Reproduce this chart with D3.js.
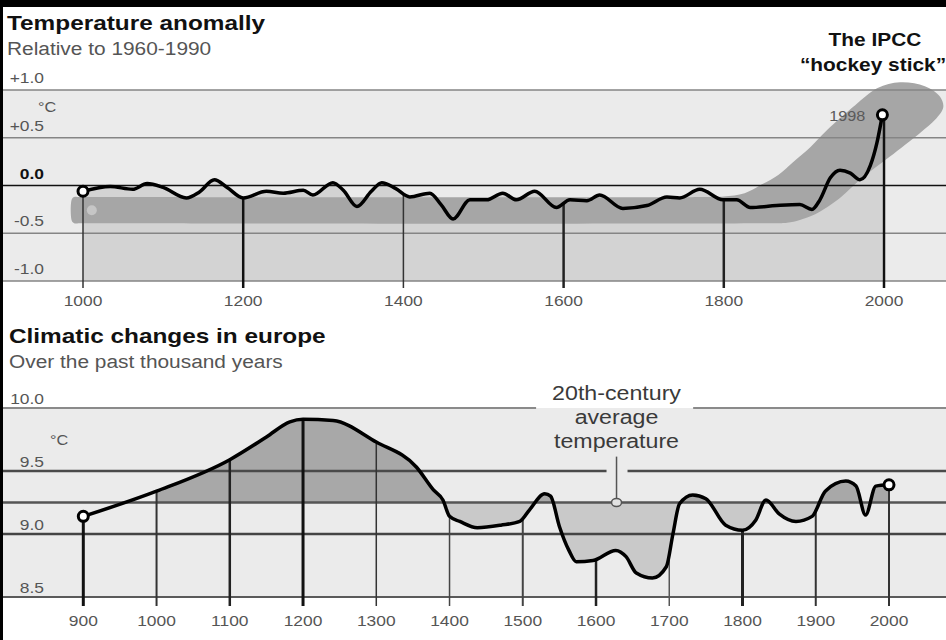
<!DOCTYPE html>
<html lang="en">
<head>
<meta charset="UTF-8">
<title>Temperature anomally</title>
<style>
  body { margin: 0; background: #fff; }
  svg { display: block; font-family: "Liberation Sans", Arial, sans-serif; }
</style>
</head>
<body>
<svg width="946" height="640"></svg>
<script src="https://d3js.org/d3.v7.min.js"></script>
<script>
// --- top panel: anomaly relative to 1960-1990 (°C) ---
const anomalyYears = [1000, 1034, 1062, 1080, 1100, 1129, 1145, 1164, 1180, 1200, 1229, 1250, 1275, 1287,
  1312, 1325, 1342, 1360, 1373, 1390, 1408, 1433, 1447, 1462, 1483, 1504, 1524, 1541, 1564, 1591, 1608,
  1629, 1645, 1674, 1704, 1729, 1745, 1770, 1799, 1816, 1833, 1866, 1895, 1910, 1920, 1933, 1945, 1958,
  1970, 1983, 1991, 1998];
const anomalyValues = [-0.06, -0.01, -0.04, 0.02, -0.02, -0.13, -0.07, 0.06, -0.02, -0.13, -0.06, -0.08, -0.05, -0.10,
  0.03, -0.05, -0.22, -0.06, 0.03, -0.03, -0.12, -0.08, -0.20, -0.35, -0.15, -0.15, -0.08, -0.15, -0.06, -0.23, -0.15,
  -0.16, -0.10, -0.24, -0.21, -0.12, -0.13, -0.04, -0.15, -0.15, -0.23, -0.21, -0.20, -0.25, -0.15, 0.08, 0.16, 0.13,
  0.06, 0.21, 0.44, 0.74];
const anomalyTicks = [1000, 1200, 1400, 1600, 1800, 2000];
const anomalyGrid = [1.0, 0.5, 0.0, -0.5, -1.0];
const anomalyGridLabels = ["+1.0", "+0.5", "0.0", "-0.5", "-1.0"];

// uncertainty band ("hockey stick"), outline going round clockwise
const bandYears = [986, 989, 996, 1780, 1800, 1826, 1845, 1868, 1886, 1908, 1929, 1964, 1992, 2020, 2051, 2070, 2074,
  2064, 2045, 2007, 1970, 1945, 1914, 1895, 1879, 1862, 996, 989, 986];
const bandValues = [-0.145, -0.12, -0.12, -0.12, -0.115, -0.08, 0.0, 0.11, 0.24, 0.40, 0.58, 0.84, 1.02, 1.08, 1.04, 0.93, 0.82,
  0.69, 0.55, 0.30, 0.06, -0.13, -0.30, -0.36, -0.39, -0.395, -0.395, -0.395, -0.37];
const bandDot = [1011, -0.26];
const labelYear = 1998;

// --- bottom panel: Europe temperature (°C) ---
const europeYears = [900, 1000, 1100, 1150, 1182, 1200, 1241, 1300, 1355, 1378, 1391, 1400, 1414, 1438, 1470,
  1496, 1509, 1530, 1538, 1550, 1563, 1573, 1596, 1627, 1641, 1655, 1677, 1696, 1705, 1714, 1732, 1750, 1777,
  1800, 1818, 1832, 1850, 1873, 1895, 1913, 1941, 1955, 1968, 1982, 2000];
const europeValues = [9.14, 9.34, 9.59, 9.77, 9.89, 9.91, 9.90, 9.73, 9.53, 9.35, 9.27, 9.14, 9.10, 9.05, 9.07,
  9.10, 9.19, 9.32, 9.30, 9.06, 8.87, 8.78, 8.79, 8.87, 8.82, 8.69, 8.65, 8.74, 9.00, 9.24, 9.31, 9.28, 9.07,
  9.03, 9.11, 9.27, 9.16, 9.10, 9.14, 9.34, 9.42, 9.38, 9.15, 9.38, 9.39];
const europeTicks = [900, 1000, 1100, 1200, 1300, 1400, 1500, 1600, 1700, 1800, 1900, 2000];
const europeGrid = [10.0, 9.5, 9.0, 8.5];
const europeGridLabels = ["10.0", "9.5", "9.0", "8.5"];
const europeAverage = 9.25;
const averageYear = 1628;
const averageLabel = ["20th-century", "average", "temperature"];

// ---------------------------------------------------------------
const W = 946, H = 640;
const SX = 1.16; // the lettering in the original is set wide
const svg = d3.select("svg");

const xTop = d3.scaleLinear().domain([1000, 2000]).range([83, 884]);
const yTop = d3.scaleLinear().domain([-1, 1]).range([281, 90]);
const xBot = d3.scaleLinear().domain([900, 2000]).range([83.3, 889]);
const yBot = d3.scaleLinear().domain([8.5, 10]).range([597, 408]);

function valueAt(years, values, t) {
  const i = d3.bisectLeft(years, t);
  if (i <= 0) return values[0];
  if (i >= years.length) return values[values.length - 1];
  const k = (t - years[i - 1]) / (years[i] - years[i - 1]);
  return values[i - 1] + (values[i] - values[i - 1]) * k;
}

function txt(sel, x, y, s, o = {}) {
  return sel.append("text")
    .attr("transform", `translate(${x},${y}) scale(${SX},1)`)
    .attr("text-anchor", o.anchor || "start")
    .attr("font-size", o.size || 15)
    .attr("font-weight", o.weight || "normal")
    .attr("fill", o.fill || "#555")
    .text(s);
}

// ===== top panel =====
const topG = svg.append("g");
const anomaly = anomalyYears.map((d, i) => [d, anomalyValues[i]]);

topG.append("rect")
  .attr("x", 0).attr("y", yTop(1)).attr("width", W).attr("height", yTop(-1) - yTop(1))
  .attr("fill", "#ebebeb");

topG.append("path")
  .datum(anomaly)
  .attr("fill", "#d3d3d3")
  .attr("d", d3.area().curve(d3.curveMonotoneX)
    .x(d => xTop(d[0])).y0(yTop(-1)).y1(d => yTop(d[1])));

topG.append("path")
  .datum(bandYears.map((d, i) => [d, bandValues[i]]))
  .attr("fill", "#a6a6a6")
  .attr("d", d3.line().curve(d3.curveCatmullRomClosed.alpha(0.5))
    .x(d => xTop(d[0])).y(d => yTop(d[1])));

topG.append("circle")
  .attr("cx", xTop(bandDot[0])).attr("cy", yTop(bandDot[1])).attr("r", 5)
  .attr("fill", "#c6c6c6");

topG.selectAll(".grid")
  .data(anomalyGrid)
  .join("line")
  .attr("x1", 3).attr("x2", W)
  .attr("y1", d => yTop(d)).attr("y2", d => yTop(d))
  .attr("stroke", d => d === 0 ? "#111" : "#858585")
  .attr("stroke-width", 1.6);

const topDrop = {1000: [1.5, "#333"], 1200: [2.5, "#111"], 1400: [1.5, "#333"],
  1600: [2.5, "#222"], 1800: [2.5, "#222"], 2000: [2.5, "#111"]};
topG.selectAll(".drop")
  .data(anomalyTicks)
  .join("line")
  .attr("x1", d => xTop(d)).attr("x2", d => xTop(d))
  .attr("y1", d => yTop(valueAt(anomalyYears, anomalyValues, d)))
  .attr("y2", yTop(-1) + 7)
  .attr("stroke", d => topDrop[d][1])
  .attr("stroke-width", d => topDrop[d][0]);

topG.append("path")
  .datum(anomaly)
  .attr("fill", "none")
  .attr("stroke", "#000")
  .attr("stroke-width", 3.5)
  .attr("stroke-linejoin", "round")
  .attr("d", d3.line().curve(d3.curveMonotoneX).x(d => xTop(d[0])).y(d => yTop(d[1])));

topG.selectAll(".dot")
  .data([anomaly[0], anomaly[anomaly.length - 1]])
  .join("circle")
  .attr("cx", d => xTop(d[0])).attr("cy", d => yTop(d[1])).attr("r", 5)
  .attr("fill", "#fff").attr("stroke", "#000").attr("stroke-width", 3);

txt(topG, 7, 30, "Temperature anomally", {size: 21, weight: "bold", fill: "#111"});
txt(topG, 7, 55, "Relative to 1960-1990", {size: 18, fill: "#555"});
anomalyGrid.forEach((v, i) => {
  txt(topG, 44, yTop(v) - 7, anomalyGridLabels[i],
    {anchor: "end", size: 15, weight: v === 0 ? "bold" : "normal", fill: v === 0 ? "#111" : "#555"});
});
txt(topG, 38, 112, "°C", {size: 14});
txt(topG, 875, 46, "The IPCC", {anchor: "middle", size: 18, weight: "bold", fill: "#111"});
txt(topG, 873, 71, "\u201chockey stick\u201d", {anchor: "middle", size: 18, weight: "bold", fill: "#111"});
txt(topG, xTop(labelYear) - 17, yTop(anomalyValues[anomalyValues.length - 1]) + 6, String(labelYear),
  {anchor: "end", size: 14, fill: "#5a5a5a"});
anomalyTicks.forEach(t => txt(topG, xTop(t), 306, String(t), {anchor: "middle", size: 15, fill: "#555"}));

// ===== bottom panel =====
const botG = svg.append("g");
const europe = europeYears.map((d, i) => [d, europeValues[i]]);

botG.append("rect")
  .attr("x", 0).attr("y", yBot(10)).attr("width", W).attr("height", yBot(8.5) - yBot(10))
  .attr("fill", "#ebebeb");

const defs = svg.append("defs");
defs.append("clipPath").attr("id", "above")
  .append("rect").attr("x", xBot(1000)).attr("y", 0)
  .attr("width", W).attr("height", yBot(europeAverage));
defs.append("clipPath").attr("id", "below")
  .append("rect").attr("x", xBot(1000)).attr("y", yBot(europeAverage))
  .attr("width", W).attr("height", H);

const diffArea = d3.area().curve(d3.curveMonotoneX)
  .x(d => xBot(d[0])).y0(yBot(europeAverage)).y1(d => yBot(d[1]));
botG.append("path").datum(europe).attr("clip-path", "url(#above)")
  .attr("fill", "#a8a8a8").attr("d", diffArea);
botG.append("path").datum(europe).attr("clip-path", "url(#below)")
  .attr("fill", "#c9c9c9").attr("d", diffArea);

// annotation text first, so the grid line can leave room for it
const ax = xBot(averageYear);
const note = botG.append("g");
averageLabel.forEach((s, i) => txt(note, ax, 400 + i * 24, s, {anchor: "middle", size: 20, fill: "#3a3a3a"}));
const nb = note.node().getBBox();
const firstLine = note.select("text").node().getBoundingClientRect();

function hline(v, gaps, color, width) {
  let x0 = 3;
  const segs = [];
  gaps.forEach(g => { segs.push([x0, g[0]]); x0 = g[1]; });
  segs.push([x0, W]);
  botG.selectAll(null).data(segs).join("line")
    .attr("x1", d => d[0]).attr("x2", d => d[1])
    .attr("y1", yBot(v)).attr("y2", yBot(v))
    .attr("stroke", color).attr("stroke-width", width);
}
hline(10.0, [[firstLine.left - 16, firstLine.right + 12]], "#8a8a8a", 2);
hline(9.5, [[ax - 10, ax + 11]], "#4a4a4a", 2.6);
hline(europeAverage, [], "#555", 2.6);
hline(9.0, [], "#444", 2.6);
hline(8.5, [], "#5a5a5a", 2);

const botDrop = {900: [3, "#111"], 1000: [2, "#333"], 1100: [2.5, "#222"], 1200: [3, "#111"],
  1300: [1.5, "#333"], 1400: [1.5, "#444"], 1500: [2, "#444"], 1600: [2.5, "#222"], 1700: [1.5, "#555"],
  1800: [3, "#222"], 1900: [2, "#333"], 2000: [2, "#333"]};
botG.selectAll(".drop")
  .data(europeTicks)
  .join("line")
  .attr("x1", d => xBot(d)).attr("x2", d => xBot(d))
  .attr("y1", d => yBot(valueAt(europeYears, europeValues, d)))
  .attr("y2", yBot(8.5) + 9)
  .attr("stroke", d => botDrop[d][1])
  .attr("stroke-width", d => botDrop[d][0]);

// pointer from the annotation down to the average line
botG.append("line")
  .attr("x1", ax).attr("x2", ax)
  .attr("y1", nb.y + nb.height + 4).attr("y2", yBot(europeAverage) - 4)
  .attr("stroke", "#555").attr("stroke-width", 1.5);
botG.append("ellipse")
  .attr("cx", ax).attr("cy", yBot(europeAverage)).attr("rx", 5).attr("ry", 4)
  .attr("fill", "#e2e2e2").attr("stroke", "#555").attr("stroke-width", 1.5);

botG.append("path")
  .datum(europe)
  .attr("fill", "none")
  .attr("stroke", "#000")
  .attr("stroke-width", 3.5)
  .attr("stroke-linejoin", "round")
  .attr("d", d3.line().curve(d3.curveMonotoneX).x(d => xBot(d[0])).y(d => yBot(d[1])));

botG.selectAll(".dot")
  .data([europe[0], europe[europe.length - 1]])
  .join("circle")
  .attr("cx", d => xBot(d[0])).attr("cy", d => yBot(d[1])).attr("r", 5)
  .attr("fill", "#fff").attr("stroke", "#000").attr("stroke-width", 3);

txt(botG, 9, 343, "Climatic changes in europe", {size: 21, weight: "bold", fill: "#111"});
txt(botG, 9, 368, "Over the past thousand years", {size: 18, fill: "#555"});
europeGrid.forEach((v, i) => txt(botG, 44, yBot(v) - 4, europeGridLabels[i], {anchor: "end", size: 15}));
txt(botG, 50, 445, "°C", {size: 14});
europeTicks.forEach(t => txt(botG, xBot(t), 626, String(t), {anchor: "middle", size: 15, fill: "#555"}));

// black frame at top and left
svg.append("rect").attr("x", 0).attr("y", 0).attr("width", W).attr("height", 7).attr("fill", "#000");
svg.append("rect").attr("x", 0).attr("y", 0).attr("width", 3).attr("height", H).attr("fill", "#000");
</script>
</body>
</html>
